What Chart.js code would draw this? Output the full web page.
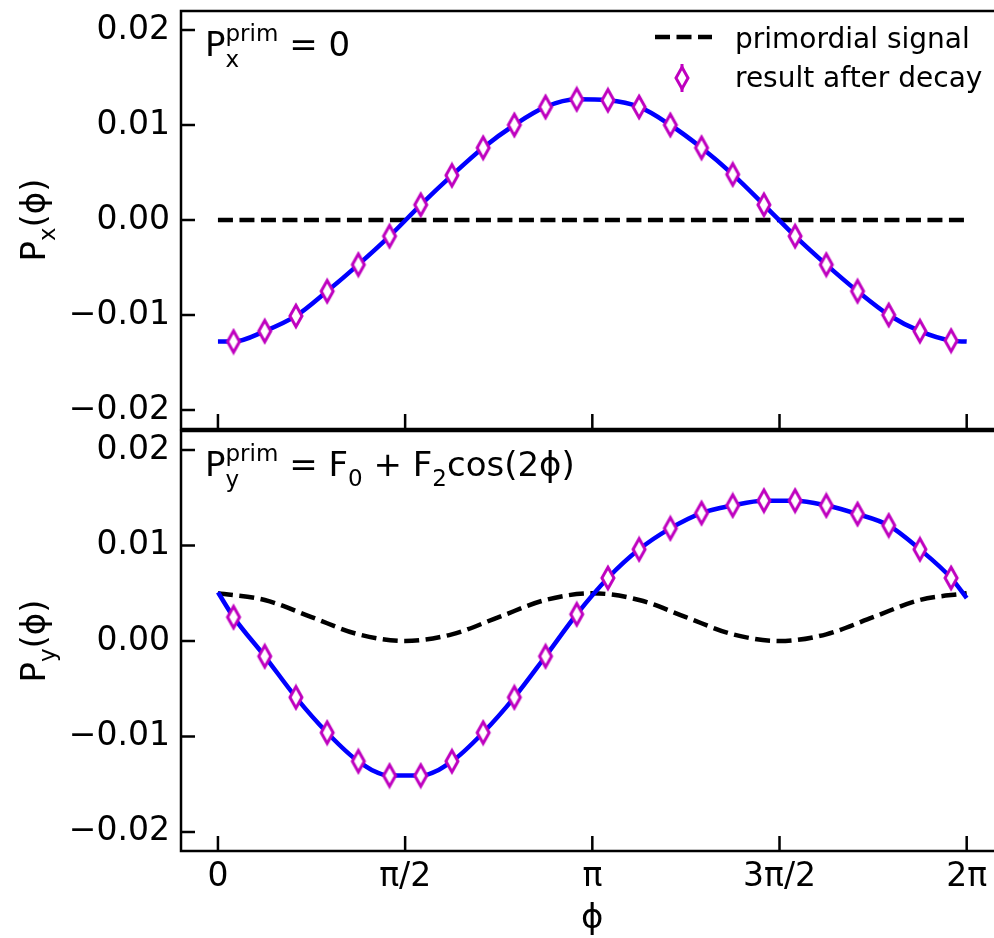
<!DOCTYPE html>
<html>
<head>
<meta charset="utf-8">
<script src="https://cdn.jsdelivr.net/npm/chart.js@4.4.1/dist/chart.umd.min.js"></script>
<style>
  html, body { margin: 0; padding: 0; background: #fff; overflow: hidden; }
  #wrap { position: relative; width: 994px; height: 938px; overflow: hidden; }
  .panel { position: absolute; left: 0; width: 994px; }
  canvas { display: block; }
</style>
</head>
<body>
<div id="wrap">
  <div class="panel" style="top:0px;height:440px"><canvas id="topPanel" width="994" height="440"></canvas></div>
  <div class="panel" style="top:420px;height:518px"><canvas id="bottomPanel" width="994" height="518"></canvas></div>
</div>
<script>
const PI = Math.PI;
const FONT = '"DejaVu Sans", sans-serif';

// phi bin centres of the "result after decay" points
const phiPoints = [0.1309, 0.3927, 0.6545, 0.9163, 1.1781, 1.4399, 1.7017, 1.9635,
  2.2253, 2.4871, 2.7489, 3.0107, 3.2725, 3.5343, 3.7961, 4.0579, 4.3197, 4.5815,
  4.8433, 5.1051, 5.3669, 5.6287, 5.8905, 6.1523];

// top panel: P_x
const pxDecay = [-0.0128, -0.0117, -0.0101, -0.0075, -0.0047, -0.0017, 0.0016, 0.0047,
  0.0076, 0.0100, 0.0119, 0.0127, 0.0126, 0.0119, 0.0100, 0.0076, 0.0048, 0.0016,
  -0.0017, -0.0047, -0.0075, -0.0100, -0.0117, -0.0127];
const pxCurveEnds = [-0.0128, -0.0128];
const pxPrimPhi = [0, 6.2832];
const pxPrim = [0, 0];

// bottom panel: P_y
const pyDecay = [0.0025, -0.0016, -0.0059, -0.0096, -0.0126, -0.0141, -0.0141, -0.0126,
  -0.0096, -0.0059, -0.0016, 0.0028, 0.0066, 0.0096, 0.0118, 0.0134, 0.0142, 0.0147,
  0.0147, 0.0142, 0.0133, 0.0121, 0.0096, 0.0066];
const pyCurveEnds = [0.0051, 0.0045];
const pyPrimPhi = [0, 0.3927, 0.7854, 1.1781, 1.5708, 1.9635, 2.3562, 2.7489, 3.1416,
  3.5343, 3.9270, 4.3197, 4.7124, 5.1051, 5.4978, 5.8905, 6.2832];
const pyPrim = [0.0050, 0.0043, 0.0025, 0.0007, 0.0000, 0.0007, 0.0025, 0.0043, 0.0050,
  0.0043, 0.0025, 0.0007, 0.0000, 0.0007, 0.0025, 0.0043, 0.0050];

const xTickVals = [0, PI / 2, PI, 3 * PI / 2, 2 * PI];
const xTickLabels = ['0', 'π/2', 'π', '3π/2', '2π'];
const yTickVals = [-0.02, -0.01, 0, 0.01, 0.02];

const MAGENTA = '#bf00bf';

// thin diamond marker ("d" style)
const diamond = document.createElement('canvas');
diamond.width = 18;
diamond.height = 28;
(() => {
  const c = diamond.getContext('2d');
  c.beginPath();
  c.moveTo(9, 3.3);
  c.lineTo(15, 14);
  c.lineTo(9, 24.7);
  c.lineTo(3, 14);
  c.closePath();
  c.fillStyle = '#fff';
  c.fill();
  c.lineWidth = 3;
  c.strokeStyle = MAGENTA;
  c.stroke();
})();

function pts(xs, ys) {
  return xs.map((x, i) => ({ x: x, y: ys[i] }));
}

function curve(ends, ys) {
  return [{ x: 0, y: ends[0] }].concat(pts(phiPoints, ys), [{ x: 2 * PI, y: ends[1] }]);
}

// draw P^{sup}_{sub} style text
function drawMath(ctx, x, y, parts) {
  for (const p of parts) {
    if (p.sup !== undefined) {
      ctx.font = `23px ${FONT}`;
      const w = Math.max(ctx.measureText(p.sup).width, ctx.measureText(p.sub).width);
      ctx.fillText(p.sup, x, y - 15);
      ctx.fillText(p.sub, x, y + 11);
      x += w;
    } else if (p.sub !== undefined) {
      ctx.font = `23px ${FONT}`;
      ctx.fillText(p.sub, x, y + 10);
      x += ctx.measureText(p.sub).width;
    } else {
      ctx.font = `34px ${FONT}`;
      ctx.fillText(p.t, x, y);
      x += ctx.measureText(p.t).width;
    }
  }
  return x;
}

function mathWidth(ctx, parts) {
  let w = 0;
  for (const p of parts) {
    if (p.sup !== undefined) {
      ctx.font = `23px ${FONT}`;
      w += Math.max(ctx.measureText(p.sup).width, ctx.measureText(p.sub).width);
    } else if (p.sub !== undefined) {
      ctx.font = `23px ${FONT}`;
      w += ctx.measureText(p.sub).width;
    } else {
      ctx.font = `34px ${FONT}`;
      w += ctx.measureText(p.t).width;
    }
  }
  return w;
}

function noPad(s) {
  s.paddingTop = 0;
  s.paddingBottom = 0;
  s.paddingLeft = 0;
  s.paddingRight = 0;
}

// axes frame (right side is cropped away in the figure) + inward ticks
const framePlugin = {
  id: 'frame',
  afterDraw(chart) {
    const { ctx, chartArea: a, scales } = chart;
    ctx.save();
    ctx.strokeStyle = '#000';
    ctx.lineWidth = 2.5;
    ctx.beginPath();
    ctx.moveTo(chart.width + 2, a.top);
    ctx.lineTo(a.left, a.top);
    ctx.lineTo(a.left, a.bottom);
    ctx.lineTo(chart.width + 2, a.bottom);
    scales.x.ticks.forEach((t) => {
      const px = scales.x.getPixelForValue(t.value);
      ctx.moveTo(px, a.bottom);
      ctx.lineTo(px, a.bottom - 15);
    });
    scales.y.ticks.forEach((t) => {
      const py = scales.y.getPixelForValue(t.value);
      ctx.moveTo(a.left, py);
      ctx.lineTo(a.left + 14, py);
    });
    ctx.stroke();
    ctx.restore();
  },
};

function makePanel(id, opts) {
  const ctx = document.getElementById(id).getContext('2d');
  const textPlugin = {
    id: 'texts',
    afterDraw(chart) {
      const c = chart.ctx;
      const a = chart.chartArea;
      c.save();
      c.fillStyle = '#000';
      c.textBaseline = 'alphabetic';
      c.textAlign = 'left';
      drawMath(c, 205, a.top + 45, opts.note);
      const w = mathWidth(c, opts.ylabel);
      c.translate(45, (a.top + a.bottom) / 2);
      c.rotate(-PI / 2);
      drawMath(c, -w / 2, 0, opts.ylabel);
      c.restore();
      if (opts.extra) opts.extra(chart);
    },
  };

  return new Chart(ctx, {
    type: 'line',
    data: {
      datasets: [
        {
          label: 'result after decay',
          data: pts(phiPoints, opts.decay),
          showLine: false,
          pointStyle: diamond,
          pointRadius: 10,
        },
        {
          label: 'fit',
          data: curve(opts.ends, opts.decay),
          borderColor: '#0000ff',
          borderWidth: 4.5,
          pointRadius: 0,
          cubicInterpolationMode: 'monotone',
        },
        {
          label: 'primordial signal',
          data: pts(opts.primPhi, opts.prim),
          borderColor: '#000',
          borderWidth: 4.5,
          borderDash: [15, 6.5],
          pointRadius: 0,
          cubicInterpolationMode: 'monotone',
        },
      ],
    },
    options: {
      responsive: false,
      maintainAspectRatio: false,
      devicePixelRatio: 1,
      animation: false,
      layout: { padding: { top: opts.padTop, left: 0, right: 0, bottom: 0 } },
      plugins: { legend: { display: false }, tooltip: { enabled: false } },
      scales: {
        x: {
          type: 'linear',
          min: -0.31,
          max: 6.42,
          grid: { display: false, drawTicks: false },
          border: { display: false },
          afterBuildTicks: (s) => { s.ticks = xTickVals.map((v) => ({ value: v })); },
          afterFit: (s) => { s.height = opts.xHeight; noPad(s); },
          ticks: {
            display: opts.showX,
            autoSkip: false,
            maxRotation: 0,
            padding: 7,
            color: '#000',
            font: { family: FONT, size: 33 },
            callback: (v, i) => xTickLabels[i],
          },
        },
        y: {
          min: -0.022,
          max: 0.022,
          grid: { display: false, drawTicks: false },
          border: { display: false },
          afterBuildTicks: (s) => { s.ticks = yTickVals.map((v) => ({ value: v })); },
          afterFit: (s) => { s.width = 181; noPad(s); },
          ticks: {
            padding: 11,
            color: '#000',
            font: { family: FONT, size: 33 },
            callback: (v) => v.toFixed(2).replace('-', '\u2212'),
          },
        },
      },
    },
    plugins: [framePlugin, textPlugin],
  });
}

makePanel('topPanel', {
  decay: pxDecay,
  ends: pxCurveEnds,
  primPhi: pxPrimPhi,
  prim: pxPrim,
  padTop: 10,
  xHeight: 9,
  showX: false,
  note: [{ t: 'P' }, { sup: 'prim', sub: 'x' }, { t: ' = 0' }],
  ylabel: [{ t: 'P' }, { sub: 'x' }, { t: '(ϕ)' }],
  extra: (chart) => {
    const c = chart.ctx;
    c.save();
    c.strokeStyle = '#000';
    c.lineWidth = 4.5;
    c.setLineDash([15, 6.5]);
    c.beginPath();
    c.moveTo(655, 37);
    c.lineTo(712, 37);
    c.stroke();
    c.setLineDash([]);
    c.strokeStyle = MAGENTA;
    c.lineWidth = 3;
    c.beginPath();
    c.moveTo(682, 64);
    c.lineTo(682, 92);
    c.stroke();
    c.drawImage(diamond, 682 - 9, 78 - 14);
    c.fillStyle = '#000';
    c.font = `28px ${FONT}`;
    c.textAlign = 'left';
    c.textBaseline = 'alphabetic';
    c.fillText('primordial signal', 735, 48);
    c.fillText('result after decay', 735, 87);
    c.restore();
  },
});

makePanel('bottomPanel', {
  decay: pyDecay,
  ends: pyCurveEnds,
  primPhi: pyPrimPhi,
  prim: pyPrim,
  padTop: 11,
  xHeight: 87,
  showX: true,
  note: [{ t: 'P' }, { sup: 'prim', sub: 'y' }, { t: ' = F' }, { sub: '0' }, { t: ' + F' }, { sub: '2' }, { t: 'cos(2ϕ)' }],
  ylabel: [{ t: 'P' }, { sub: 'y' }, { t: '(ϕ)' }],
  extra: (chart) => {
    const c = chart.ctx;
    const xs = chart.scales.x;
    c.save();
    c.fillStyle = '#000';
    c.font = `34px ${FONT}`;
    c.textAlign = 'center';
    c.textBaseline = 'alphabetic';
    c.fillText('ϕ', xs.getPixelForValue(PI), 508);
    c.restore();
  },
});
</script>
</body>
</html>
